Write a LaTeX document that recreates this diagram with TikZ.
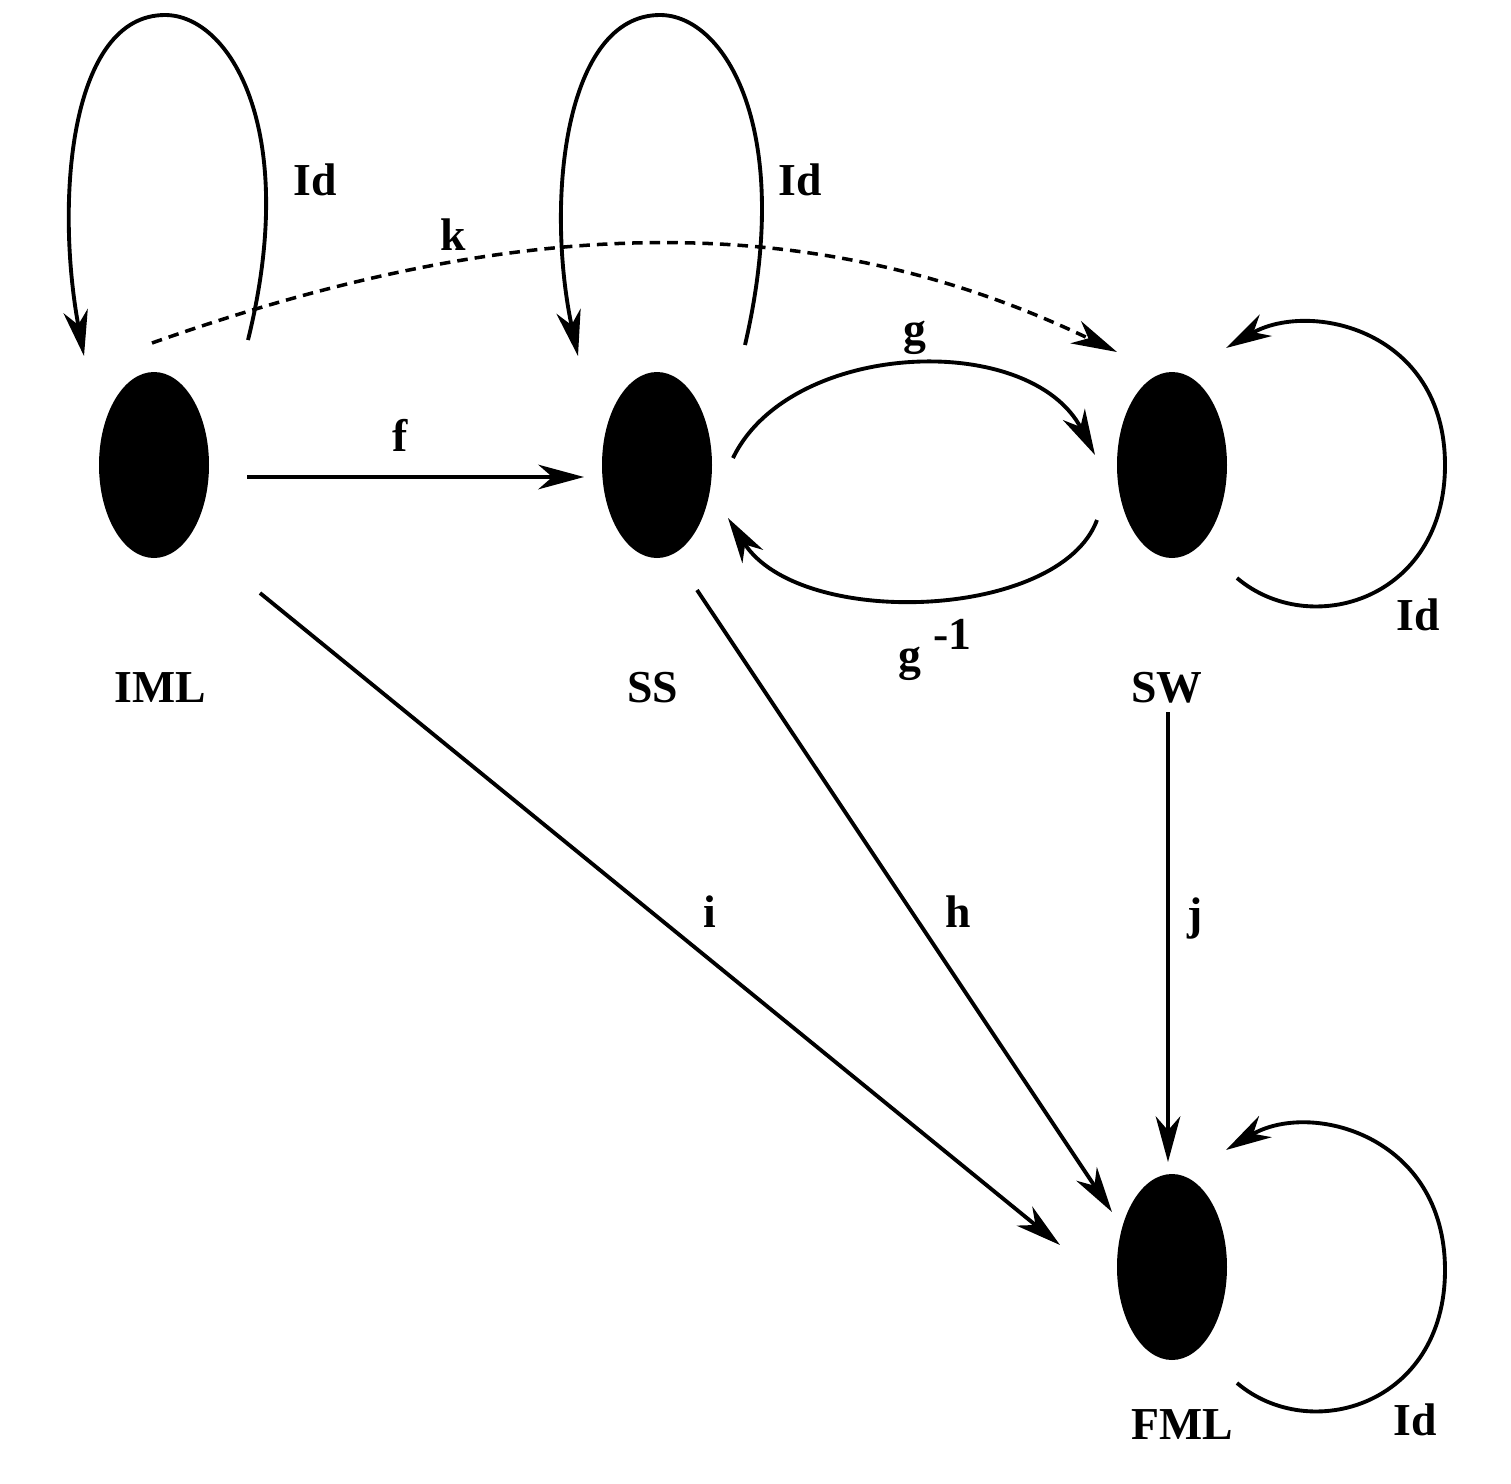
\documentclass[tikz,border=0pt]{standalone}
\usepackage{fontspec}
\setmainfont{Liberation Serif}
\usetikzlibrary{arrows.meta}
\begin{document}
\begin{tikzpicture}[x=0.01cm,y=-0.01cm,
  st/.style={draw=black,fill=black,ellipse,minimum width=110\pgflinewidth},
  lbl/.style={font=\bfseries\fontsize{13}{14}\selectfont},
  ar/.style={line width=1.1pt,-{Stealth[length=13pt,width=7pt,inset=4pt]}}]
\useasboundingbox (0,0) rectangle (1511,1484);
\fill (154,465) ellipse [x radius=55, y radius=93];
\fill (657,465) ellipse [x radius=55, y radius=93];
\fill (1172,465) ellipse [x radius=55, y radius=93];
\fill (1172,1267) ellipse [x radius=55, y radius=93];
\node[lbl] (nIML) at (160,688) {IML};
\node[lbl] (nSS) at (653,688) {SS};
\node[lbl] (nSW) at (1167,688) {SW};
\node[lbl] (nFML) at (1182,1425) {FML};
% f
\coordinate (f1) at (247,477); \coordinate (f2) at (584,477);
\draw[ar] (f1) -- (f2);
\node[lbl] (lf) at (400,435) {f};
% IML loop
\coordinate (a1) at (248,340); \coordinate (a2) at (84,356);
\draw[ar] (a1) .. controls (300,130) and (230,15) .. (165,15) .. controls (70,15) and (55,200) .. (a2);
\node[lbl] (l1) at (315,180) {Id};
% SS loop
\coordinate (b1) at (745,345); \coordinate (b2) at (578,356);
\draw[ar] (b1) .. controls (795,130) and (725,15) .. (660,15) .. controls (565,15) and (545,200) .. (b2);
\node[lbl] (l2) at (800,180) {Id};
% k
\coordinate (k1) at (152,343); \coordinate (k2) at (1117,352);
\draw[ar,dashed,dash pattern=on 3pt off 2pt,line width=1pt] (k1) .. controls (500,220) and (800,200) .. (k2);
\node[lbl] (lk) at (453,235) {k};
% g
\coordinate (g1) at (733,458); \coordinate (g2) at (1095,455);
\draw[ar] (g1) .. controls (790,340) and (1030,330) .. (g2);
\node[lbl] (lg) at (915,338) {g};
% g^-1
\coordinate (h1) at (1097,520); \coordinate (h2) at (728,518);
\draw[ar] (h1) .. controls (1060,620) and (800,630) .. (h2);
\node[lbl] (lgi) at (935,650) {g \raisebox{1ex}{-1}};
% SW loop
\coordinate (s1) at (1237,578); \coordinate (s2) at (1226,348);
\draw[ar] (s1) .. controls (1310,640) and (1445,600) .. (1445,465) .. controls (1445,330) and (1310,300) .. (s2);
\node[lbl] (l3) at (1418,615) {Id};
% FML loop
\coordinate (t1) at (1237,1383); \coordinate (t2) at (1226,1150);
\draw[ar] (t1) .. controls (1310,1445) and (1445,1405) .. (1445,1270) .. controls (1445,1135) and (1310,1100) .. (t2);
\node[lbl] (l4) at (1415,1420) {Id};
% i h j
\coordinate (i1) at (260,593); \coordinate (i2) at (1060,1245);
\draw[ar] (i1) -- (i2);
\node[lbl] (li) at (710,912) {i};
\coordinate (j1) at (697,590); \coordinate (j2) at (1112,1212);
\draw[ar] (j1) -- (j2);
\node[lbl] (lh) at (958,912) {h};
\coordinate (m1) at (1168,712); \coordinate (m2) at (1168,1162);
\draw[ar] (m1) -- (m2);
\node[lbl] (lj) at (1195,918) {j};
\end{tikzpicture}
\end{document}
